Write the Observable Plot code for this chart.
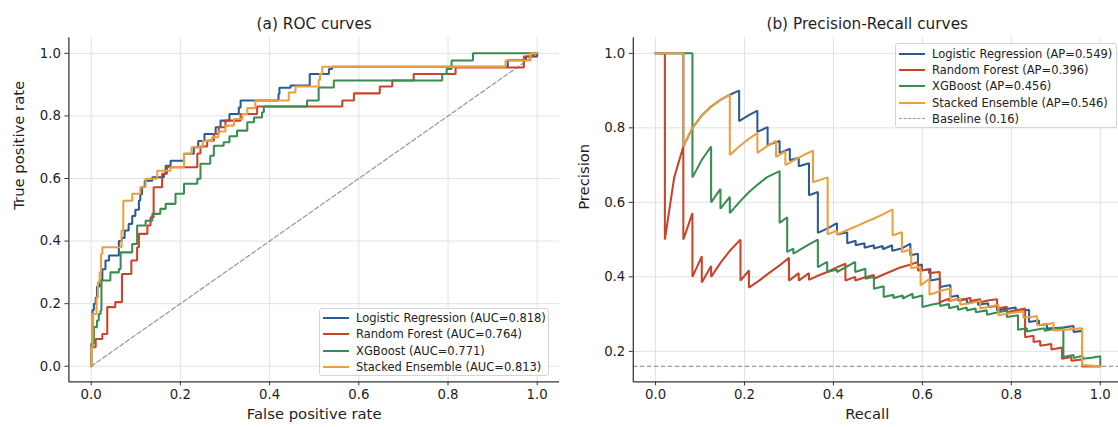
<!DOCTYPE html>
<html><head><meta charset="utf-8">
<script src="https://cdn.jsdelivr.net/npm/d3@7"></script>
<script src="https://cdn.jsdelivr.net/npm/@observablehq/plot@0.6"></script>
<style>
body{margin:0;background:#fff;font-family:"DejaVu Sans",sans-serif;}
#wrap{position:relative;display:flex;width:1118px;height:427px;overflow:hidden;}
#wrap svg{flex:none;max-width:none;}
.legend{position:absolute;border:1px solid #d4d4d4;border-radius:3px;background:rgba(255,255,255,0.85);font-size:11.5px;color:#222;box-sizing:border-box;}
.row{display:flex;align-items:center;white-space:nowrap;}
.sw{flex:none;height:0;}
</style></head><body><div id="wrap"></div>
<script>
// ---------------- data ----------------
const modelNames = ["Logistic Regression", "Random Forest", "XGBoost", "Stacked Ensemble"];
const modelColors = ["#2b5b91", "#c8442b", "#3a8c52", "#eaa03f"];
const aucValues = [0.818, 0.764, 0.771, 0.813];
const apValues = [0.549, 0.396, 0.456, 0.546];
const baselineRate = 0.16;
const axisTicks = [0, 0.2, 0.4, 0.6, 0.8, 1.0];
const prYTicks = [0.2, 0.4, 0.6, 0.8, 1.0];
const chanceLine = [[0, 0], [1, 1]];

// ROC curves: [false positive rate, true positive rate] at each step
const rocLogReg = [[0,0],[0,0.06],[0.003,0.18],[0.006,0.2],[0.01,0.22],[0.013,0.255],[0.019,0.275],[0.025,0.31],[0.032,0.338],[0.04,0.354],[0.062,0.40],[0.069,0.41],[0.075,0.434],[0.084,0.455],[0.092,0.48],[0.099,0.50],[0.107,0.53],[0.11,0.55],[0.114,0.573],[0.12,0.593],[0.137,0.604],[0.163,0.615],[0.167,0.641],[0.178,0.657],[0.208,0.679],[0.23,0.70],[0.24,0.72],[0.254,0.742],[0.279,0.764],[0.29,0.785],[0.31,0.806],[0.331,0.827],[0.335,0.849],[0.42,0.87],[0.422,0.89],[0.447,0.897],[0.49,0.934],[0.533,0.95],[0.54,0.957],[0.934,0.978],[0.975,0.99],[1,1]];
const rocRandomForest = [[0,0],[0,0.061],[0.01,0.087],[0.025,0.103],[0.036,0.189],[0.054,0.205],[0.069,0.295],[0.09,0.338],[0.103,0.38],[0.107,0.423],[0.126,0.45],[0.133,0.476],[0.14,0.572],[0.159,0.615],[0.17,0.636],[0.238,0.68],[0.245,0.702],[0.26,0.721],[0.275,0.742],[0.286,0.764],[0.301,0.785],[0.335,0.806],[0.372,0.83],[0.563,0.849],[0.589,0.872],[0.647,0.894],[0.675,0.913],[0.723,0.934],[0.817,0.955],[0.97,0.99],[0.99,1],[1,1]];
const rocXGBoost = [[0,0],[0,0.072],[0.006,0.125],[0.013,0.146],[0.017,0.167],[0.021,0.178],[0.023,0.274],[0.043,0.30],[0.062,0.311],[0.066,0.364],[0.092,0.391],[0.103,0.45],[0.122,0.465],[0.137,0.487],[0.155,0.503],[0.167,0.519],[0.189,0.551],[0.208,0.583],[0.238,0.599],[0.245,0.647],[0.267,0.673],[0.275,0.705],[0.297,0.716],[0.31,0.735],[0.327,0.753],[0.35,0.78],[0.365,0.795],[0.383,0.812],[0.387,0.83],[0.484,0.849],[0.51,0.891],[0.544,0.913],[0.787,0.934],[0.797,0.95],[0.808,0.977],[0.856,1],[1,1]];
const rocStacked = [[0,0],[0,0.06],[0.003,0.167],[0.012,0.22],[0.015,0.268],[0.019,0.30],[0.022,0.359],[0.025,0.38],[0.068,0.434],[0.072,0.529],[0.092,0.551],[0.11,0.572],[0.122,0.599],[0.148,0.625],[0.178,0.636],[0.208,0.679],[0.225,0.70],[0.25,0.72],[0.271,0.732],[0.285,0.75],[0.301,0.769],[0.32,0.79],[0.339,0.806],[0.35,0.825],[0.368,0.849],[0.443,0.875],[0.458,0.894],[0.51,0.915],[0.513,0.935],[0.518,0.957],[0.929,0.977],[0.985,1],[1,1]];

// Precision-recall curves: [recall, precision]
const prLogReg = [[0,1],[0.0625,1],[0.0625,0.75],[0.083,0.8],[0.104,0.833],[0.125,0.857],[0.146,0.875],[0.167,0.889],[0.188,0.9],[0.188,0.818],[0.208,0.833],[0.229,0.846],[0.229,0.789],[0.252,0.802],[0.252,0.753],[0.279,0.765],[0.279,0.732],[0.302,0.744],[0.302,0.713],[0.322,0.72],[0.322,0.697],[0.345,0.705],[0.345,0.619],[0.365,0.628],[0.365,0.518],[0.387,0.53],[0.408,0.544],[0.408,0.514],[0.431,0.52],[0.431,0.49],[0.45,0.497],[0.45,0.485],[0.47,0.49],[0.47,0.478],[0.491,0.485],[0.491,0.476],[0.511,0.483],[0.511,0.474],[0.532,0.485],[0.532,0.47],[0.553,0.476],[0.573,0.489],[0.573,0.458],[0.59,0.462],[0.59,0.43],[0.599,0.433],[0.599,0.417],[0.618,0.421],[0.618,0.39],[0.64,0.395],[0.64,0.373],[0.663,0.378],[0.663,0.346],[0.68,0.35],[0.68,0.337],[0.70,0.341],[0.70,0.33],[0.725,0.335],[0.725,0.325],[0.748,0.329],[0.748,0.319],[0.768,0.322],[0.768,0.31],[0.79,0.314],[0.81,0.318],[0.81,0.305],[0.84,0.312],[0.84,0.279],[0.862,0.283],[0.862,0.27],[0.88,0.273],[0.88,0.261],[0.917,0.264],[0.94,0.268],[0.94,0.252],[0.959,0.255],[0.959,0.16],[1,0.16]];
const prRandomForest = [[0,1],[0.021,1],[0.021,0.5],[0.042,0.667],[0.0625,0.75],[0.0625,0.5],[0.083,0.571],[0.083,0.4],[0.104,0.455],[0.104,0.385],[0.125,0.429],[0.125,0.40],[0.146,0.4375],[0.167,0.47],[0.191,0.5],[0.191,0.39],[0.21,0.417],[0.21,0.371],[0.233,0.39],[0.255,0.41],[0.278,0.43],[0.3,0.451],[0.3,0.39],[0.322,0.41],[0.322,0.39],[0.345,0.41],[0.345,0.392],[0.365,0.403],[0.386,0.413],[0.405,0.424],[0.427,0.435],[0.427,0.39],[0.449,0.40],[0.449,0.39],[0.47,0.398],[0.491,0.405],[0.491,0.395],[0.51,0.405],[0.53,0.415],[0.55,0.425],[0.57,0.432],[0.59,0.44],[0.59,0.417],[0.615,0.42],[0.615,0.41],[0.639,0.413],[0.639,0.332],[0.66,0.341],[0.66,0.335],[0.685,0.342],[0.685,0.336],[0.708,0.344],[0.708,0.335],[0.73,0.34],[0.73,0.332],[0.75,0.337],[0.768,0.34],[0.768,0.315],[0.79,0.32],[0.79,0.305],[0.81,0.31],[0.831,0.315],[0.831,0.238],[0.85,0.242],[0.85,0.225],[0.865,0.228],[0.865,0.215],[0.89,0.22],[0.89,0.205],[0.914,0.21],[0.914,0.18],[0.935,0.185],[0.935,0.175],[0.959,0.178],[0.959,0.16],[1,0.16]];
const prXGBoost = [[0,1],[0.083,1],[0.083,0.667],[0.104,0.714],[0.125,0.75],[0.125,0.60],[0.146,0.636],[0.146,0.583],[0.167,0.615],[0.167,0.571],[0.188,0.60],[0.208,0.625],[0.229,0.647],[0.25,0.667],[0.279,0.684],[0.279,0.545],[0.296,0.56],[0.296,0.467],[0.31,0.476],[0.31,0.462],[0.326,0.474],[0.345,0.487],[0.365,0.50],[0.365,0.426],[0.386,0.44],[0.386,0.413],[0.408,0.42],[0.408,0.413],[0.449,0.44],[0.449,0.413],[0.472,0.422],[0.472,0.395],[0.491,0.40],[0.491,0.368],[0.513,0.375],[0.513,0.346],[0.535,0.352],[0.535,0.343],[0.556,0.35],[0.556,0.342],[0.578,0.355],[0.578,0.343],[0.6,0.35],[0.6,0.319],[0.62,0.325],[0.64,0.33],[0.64,0.322],[0.66,0.327],[0.66,0.316],[0.68,0.322],[0.68,0.312],[0.7,0.318],[0.7,0.31],[0.72,0.315],[0.72,0.305],[0.745,0.31],[0.745,0.298],[0.768,0.304],[0.79,0.31],[0.79,0.292],[0.815,0.297],[0.815,0.258],[0.835,0.262],[0.835,0.253],[0.855,0.258],[0.875,0.262],[0.875,0.255],[0.895,0.26],[0.917,0.264],[0.917,0.185],[0.94,0.19],[0.94,0.182],[0.96,0.188],[0.96,0.18],[0.98,0.183],[1,0.187],[1,0.16]];
const prStacked = [[0,1],[0.0625,1],[0.0625,0.75],[0.083,0.8],[0.104,0.833],[0.125,0.857],[0.146,0.875],[0.167,0.889],[0.167,0.727],[0.188,0.75],[0.208,0.769],[0.229,0.786],[0.229,0.733],[0.25,0.75],[0.271,0.765],[0.271,0.722],[0.292,0.737],[0.292,0.70],[0.313,0.714],[0.333,0.727],[0.354,0.739],[0.354,0.654],[0.387,0.667],[0.387,0.514],[0.408,0.524],[0.408,0.514],[0.43,0.525],[0.45,0.535],[0.47,0.546],[0.49,0.556],[0.51,0.567],[0.533,0.581],[0.533,0.511],[0.554,0.52],[0.554,0.467],[0.575,0.474],[0.575,0.423],[0.596,0.428],[0.596,0.377],[0.616,0.395],[0.616,0.352],[0.64,0.362],[0.663,0.369],[0.663,0.335],[0.685,0.342],[0.685,0.325],[0.71,0.33],[0.73,0.335],[0.73,0.315],[0.75,0.32],[0.771,0.325],[0.771,0.297],[0.79,0.301],[0.81,0.305],[0.827,0.308],[0.827,0.29],[0.845,0.292],[0.858,0.295],[0.858,0.27],[0.88,0.273],[0.895,0.276],[0.895,0.256],[0.93,0.259],[0.959,0.262],[0.959,0.163],[1,0.16]];

const rocSeries = [rocLogReg, rocRandomForest, rocXGBoost, rocStacked];
const prSeries = [prLogReg, prRandomForest, prXGBoost, prStacked];

// ---------------- drawing ----------------
const FONT = "DejaVu Sans";
const spine = "#333333";
const gridColor = "#e2e2e2";
const H = 427, MT = 37.2, MB = 45.6;

function commonMarks(opts) {
  const {xTicks, yTicks, title, xLabel, yLabel, cx} = opts;
  return [
    Plot.gridX(xTicks, {stroke: gridColor, strokeOpacity: 1, strokeWidth: 1}),
    Plot.gridY(yTicks, {stroke: gridColor, strokeOpacity: 1, strokeWidth: 1}),
    Plot.axisX(xTicks, {tickFormat: d3.format(".1f"), tickSize: 4, tickPadding: 4, fontSize: 13.3, stroke: spine, fill: "#1e1e1e", label: null}),
    Plot.axisY(yTicks, {tickFormat: d3.format(".1f"), tickSize: 4, tickPadding: 4, fontSize: 13.3, stroke: spine, fill: "#1e1e1e", label: null}),
    Plot.text([title], {x: () => cx, frameAnchor: "top", dy: -20, fontSize: 15.3, fill: "#1e1e1e", text: d => d}),
    Plot.text([xLabel], {x: () => cx, frameAnchor: "bottom", dy: 37, fontSize: 14.8, fill: "#1e1e1e", text: d => d}),
    Plot.text([yLabel], {frameAnchor: "left", dx: opts.yLabelDx, rotate: -90, fontSize: 14.8, fill: "#1e1e1e", text: d => d})
  ];
}

function spines(yMin) {
  return [
    Plot.ruleX([-0.05], {stroke: spine, strokeWidth: 1.25}),
    Plot.ruleY([yMin], {stroke: spine, strokeWidth: 1.25})
  ];
}

const seriesLines = (series, curve) => series.map((s, i) =>
  Plot.line(s, {x: d => d[0], y: d => d[1], stroke: modelColors[i], strokeWidth: 2.05, curve, strokeLinejoin: "miter"}));

const rocPlot = Plot.plot({
  width: 560, height: H, marginLeft: 68.4, marginRight: 1, marginTop: MT, marginBottom: MB,
  style: {fontFamily: FONT, background: "white", overflow: "visible"},
  x: {domain: [-0.05, 1.05]},
  y: {domain: [-0.05, 1.05]},
  marks: [
    ...commonMarks({xTicks: axisTicks, yTicks: axisTicks, title: "(a) ROC curves", xLabel: "False positive rate", yLabel: "True positive rate", yLabelDx: -50, cx: 0.5}),
    Plot.line(chanceLine, {x: d => d[0], y: d => d[1], stroke: "#9a9a9a", strokeWidth: 1.25, strokeDasharray: "4.5,2.5"}),
    ...seriesLines(rocSeries, "step-after"),
    ...spines(-0.05)
  ]
});

const prYMin = 0.118;
const prPlot = Plot.plot({
  width: 558, height: H, marginLeft: 72.8, marginRight: 0, marginTop: MT, marginBottom: MB,
  style: {fontFamily: FONT, background: "white", overflow: "visible"},
  x: {domain: [-0.05, 1.05], range: [72.8, 562]},
  y: {domain: [prYMin, 1.042]},
  marks: [
    ...commonMarks({xTicks: axisTicks, yTicks: prYTicks, title: "(b) Precision-Recall curves", xLabel: "Recall", yLabel: "Precision", yLabelDx: -49, cx: 0.476}),
    Plot.ruleY([baselineRate], {stroke: "#9a9a9a", strokeWidth: 1.25, strokeDasharray: "4.5,2.5"}),
    ...seriesLines(prSeries, "linear"),
    ...spines(prYMin)
  ]
});

const wrap = document.getElementById("wrap");
wrap.append(rocPlot, prPlot);

function legend(items, box) {
  const el = document.createElement("div");
  el.className = "legend";
  Object.assign(el.style, {left: box.left + "px", top: box.top + "px", width: box.width + "px", padding: "0 0 0 3px", paddingTop: box.padTop + "px"});
  for (const it of items) {
    const r = document.createElement("div");
    r.className = "row";
    r.style.height = box.rowH + "px";
    const sw = document.createElement("span");
    sw.className = "sw";
    sw.style.width = "26px";
    sw.style.borderTop = it.dashed ? `1.3px dashed ${it.color}` : `2px solid ${it.color}`;
    sw.style.marginRight = "7px";
    const t = document.createElement("span");
    t.textContent = it.label;
    r.append(sw, t);
    el.append(r);
  }
  el.style.height = box.height + "px";
  wrap.append(el);
}

legend(modelNames.map((n, i) => ({label: `${n} (AUC=${aucValues[i].toFixed(3)})`, color: modelColors[i]})),
  {left: 319, top: 308, width: 230, height: 68, rowH: 16.5, padTop: 0.5});
legend([...modelNames.map((n, i) => ({label: `${n} (AP=${apValues[i].toFixed(3)})`, color: modelColors[i]})),
  {label: `Baseline (${baselineRate.toFixed(2)})`, color: "#9a9a9a", dashed: true}],
  {left: 895, top: 43, width: 222, height: 85, rowH: 16.3, padTop: 1.5});
</script></body></html>
